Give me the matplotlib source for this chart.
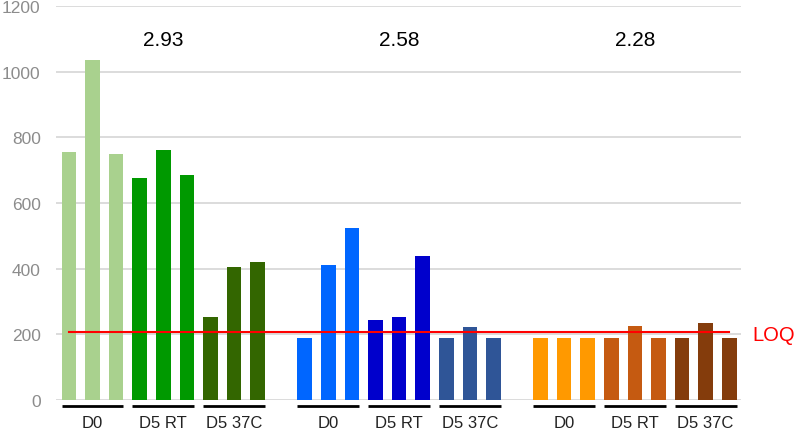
import matplotlib.pyplot as plt
import matplotlib.transforms as mtransforms
import numpy as np

plt.rcParams['font.family'] = ['Liberation Sans', 'DejaVu Sans']

# values, three replicates per condition
groups = ['D0', 'D5 RT', 'D5 37C']
green_vals = [[755, 1036, 749], [676, 761, 686], [253, 405, 420]]
blue_vals = [[190, 411, 524], [244, 253, 439], [190, 223, 190]]
orange_vals = [[190, 190, 190], [190, 224, 190], [190, 236, 190]]
ratios = ['2.93', '2.58', '2.28']
loq = 208

green_cols = ['#A9D18E', '#009900', '#336600']
blue_cols = ['#0066FF', '#0000CC', '#2F5597']
orange_cols = ['#FF9900', '#C55A11', '#843C0C']

fig = plt.figure(figsize=(7.97, 4.31), dpi=100)
ax = fig.add_axes([56/797, 30/431, (741-56)/797, 394/431])

width = 0.62
trans = mtransforms.blended_transform_factory(ax.transData, ax.transAxes)
all_sets = [(green_vals, green_cols), (blue_vals, blue_cols), (orange_vals, orange_cols)]
pos = 0
centers = []
for vals, cols in all_sets:
    start = pos
    for sub, col, name in zip(vals, cols, groups):
        xs = np.arange(pos, pos + len(sub))
        ax.bar(xs, sub, width=width, color=col, zorder=2)
        ax.plot([xs[0] - width/2, xs[-1] + width/2], [-0.014, -0.014], color='black',
                lw=2, transform=trans, clip_on=False, solid_capstyle='butt')
        ax.text(xs.mean(), -0.057, name, transform=trans, ha='center', va='center',
                fontsize=12, color='#222222')
        pos += len(sub)
    centers.append((start + pos - 1) / 2)
    pos += 1

last = pos - 2
for c, r in zip(centers, ratios):
    ax.text(c, 1097, r, ha='center', va='center', fontsize=15, color='black')

ax.plot([0, last], [loq, loq], color='red', lw=1.5, zorder=3)
ax.text(last + 0.98, loq - 10, 'LOQ', color='red', fontsize=14.5, va='center', ha='left',
        clip_on=False)

ax.set_xlim(-0.55, last + 0.5)
ax.set_ylim(0, 1200)
ax.set_yticks(range(0, 1201, 200))
ax.yaxis.grid(True, color='#D9D9D9', lw=1.3, zorder=0)
ax.set_axisbelow(True)
ax.set_xticks([])
for s in ax.spines.values():
    s.set_visible(False)
ax.tick_params(axis='y', length=0, labelsize=12.5, labelcolor='#8C8C8C', pad=11)

fig.savefig('out.png', dpi=100)
